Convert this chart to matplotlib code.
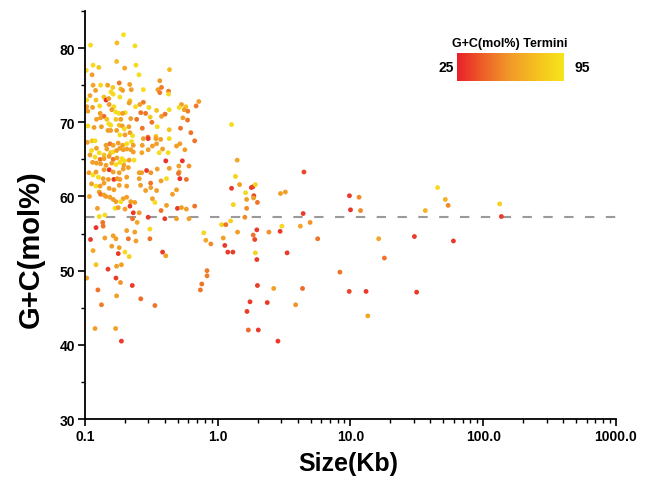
import numpy as np
import matplotlib
matplotlib.use("Agg")
import matplotlib.pyplot as plt
from matplotlib.colors import LinearSegmentedColormap
from matplotlib.ticker import LogLocator, MultipleLocator, FixedLocator, FixedFormatter, NullFormatter

plt.rcParams['font.family'] = ['Liberation Sans', 'DejaVu Sans']
plt.rcParams['font.weight'] = 'bold'

# ---- Data: plasmid size (Kb), G+C (mol%), G+C of termini (mol%) ----
# Dense cluster, upper part
size_a = [0.195,0.110,0.174,0.238,0.115,0.173,0.127,0.199,0.242,0.102,
          0.433,0.113,0.255,0.366,0.181,0.217,0.115,0.131,0.148,0.162,
          0.186,0.192,0.223,0.275,0.354,0.377,0.426,0.120,0.157,0.163,
          0.366,0.426,0.109,0.103,0.121,0.139,0.144,0.151,0.183,0.218,
          0.215,0.275,0.259,0.240,0.303,0.720,0.687,0.533,0.575,0.512,
          0.558,0.595,0.103,0.105,0.114,0.129,0.152,0.165,0.159,0.170,
          0.180,0.201,0.192,0.130,0.139,0.131,0.122,0.146,0.171,0.186,
          0.221,0.263,0.286,0.346,0.310,0.377,0.401,0.431,0.245,0.319,
          0.546,0.592,0.105,0.117,0.133,0.151,0.156,0.181,0.191,0.214,
          0.350,0.270,0.431,0.524,0.627,0.149,0.156,0.173,0.198,0.218,
          0.228,0.183,0.200,0.342,0.298]
gc_a = [81.8,80.4,80.7,80.3,77.7,78.2,77.4,77.3,77.7,77.0,
        77.1,76.4,76.4,75.6,75.3,75.1,75.0,75.0,75.0,74.7,
        74.5,74.3,74.4,74.4,74.4,74.7,74.2,74.3,74.1,73.8,
        74.0,73.8,73.6,73.0,73.0,73.4,73.0,73.2,73.4,72.9,
        72.6,72.7,72.4,72.1,72.0,72.8,72.2,72.4,72.1,72.0,
        71.7,71.5,72.1,71.5,72.0,72.2,72.4,72.1,71.7,71.4,
        71.2,71.3,71.2,71.2,70.8,70.6,70.4,70.4,70.4,70.4,
        70.5,71.3,71.2,71.6,70.7,70.8,71.1,71.7,70.4,70.0,
        70.6,70.3,69.5,69.3,69.4,69.8,69.6,69.6,69.5,69.4,
        69.4,69.2,69.0,69.2,68.6,68.9,68.9,68.9,69.1,68.6,
        68.2,68.3,68.3,68.1,68.0]
term_a = [92,90,75,90,88,75,80,65,88,88,
          75,62,90,60,50,62,65,88,62,80,
          75,62,62,90,62,50,50,62,90,88,
          50,88,65,90,78,78,30,62,90,78,
          62,50,62,90,88,62,50,62,78,90,
          62,50,62,62,62,88,62,90,62,90,
          90,90,62,62,45,62,62,78,78,62,
          62,48,48,78,80,62,48,90,48,48,
          62,48,90,62,62,90,90,78,62,62,
          90,48,78,48,48,62,62,62,90,62,
          90,90,62,78,48]

# Dense cluster, middle part
size_b = [0.104,0.113,0.119,0.144,0.154,0.163,0.178,0.192,0.206,0.224,
          0.231,0.275,0.299,0.342,0.371,0.431,0.518,0.670,0.270,0.322,
          0.346,0.112,0.122,0.128,0.139,0.146,0.156,0.163,0.173,0.183,
          0.194,0.206,0.221,0.231,0.268,0.299,0.362,0.384,0.423,0.489,
          0.565,0.109,0.119,0.130,0.139,0.152,0.163,0.174,0.190,0.198,
          0.215,0.234,0.114,0.122,0.131,0.144,0.159,0.171,0.183,0.196,
          0.212,0.406,0.509,0.541,0.607,0.107,0.115,0.121,0.139,0.152,
          0.163,0.181,0.194,0.256,0.267,0.291,0.313,0.350,0.431,0.512,
          0.506,0.126,0.137,0.150,0.165,0.175,0.183,0.206,0.256,0.312,
          0.374,0.411,0.518,0.580,0.112,0.121,0.130,0.139,0.152,0.165,
          0.181,0.206,0.262,0.286,0.313,0.346,0.456,0.489,0.128,0.131,
          0.139,0.108,0.144,0.154,0.163,0.194,0.206,0.322,0.171,0.186,
          0.221,0.237,0.336,0.411,0.497,0.533,0.580,0.670,0.124,0.168,
          0.178,0.200,0.218,0.256,0.374,0.231,0.128,0.141,0.136,0.137,
          0.299,0.399,0.489,0.607,0.228,0.247,0.206,0.237,0.308,0.785,
          0.813,0.121,0.110,0.141,0.163,0.171,0.212,0.242,0.308,0.159,
          0.181]
gc_b = [67.3,67.5,67.5,66.9,67.1,66.9,67.2,66.9,67.1,67.4,
        66.9,67.8,67.8,67.8,67.7,67.8,67.1,67.5,66.9,66.8,
        67.1,66.2,66.5,65.9,65.6,66.4,65.9,66.0,66.2,66.5,
        66.3,66.4,66.3,66.0,65.9,66.3,65.9,66.4,65.9,66.8,
        66.3,65.6,65.3,65.0,65.1,65.4,65.0,65.2,65.1,64.8,
        64.9,64.9,64.6,64.5,64.4,64.2,64.5,64.3,64.6,64.2,
        63.9,64.8,64.1,64.8,64.1,63.2,62.9,63.3,63.6,63.6,
        63.3,63.2,63.7,63.2,63.2,63.5,63.2,63.7,63.8,63.3,
        63.1,62.6,62.4,62.3,62.3,62.4,62.3,62.6,62.4,61.8,
        62.1,62.4,62.4,62.3,61.7,61.4,61.4,61.8,61.1,60.9,
        61.5,61.4,61.5,60.8,61.2,60.8,60.3,60.9,60.6,60.3,
        60.2,60.0,60.0,59.9,59.6,59.7,59.9,59.7,59.3,59.3,
        59.3,59.2,59.2,58.8,58.4,58.5,58.3,58.7,58.4,58.4,
        58.5,58.3,58.7,57.8,58.1,57.8,57.3,57.5,56.5,56.0,
        57.2,57.0,57.0,57.0,57.0,56.5,55.4,55.2,55.6,55.1,
        54.1,55.8,54.2,54.4,54.7,54.3,54.3,54.0,54.3,53.3,
        53.1]
term_b = [62,78,90,62,48,62,62,62,90,90,
          62,62,32,62,62,88,62,48,62,62,
          62,90,62,90,78,62,78,90,62,62,
          62,62,62,62,65,62,90,62,90,62,
          62,62,90,48,62,62,48,62,90,90,
          62,90,62,62,62,62,62,90,90,62,
          62,30,62,30,58,62,90,62,62,30,
          62,62,62,62,62,32,58,62,62,62,
          48,90,62,62,32,58,62,62,62,48,
          62,90,30,48,62,90,62,62,62,62,
          62,62,62,62,62,62,62,62,62,48,
          62,62,62,62,62,62,62,62,62,90,
          62,62,90,62,32,62,62,48,62,90,
          62,62,32,62,48,32,90,90,48,48,
          32,32,62,62,48,65,62,62,88,88,
          65,30,32,62,62,62,48,62,48,62,
          62]

# Dense cluster, lower tail
size_c = [0.887,0.115,0.178,0.200,0.215,0.384,0.406,0.121,0.173,0.188,
          0.149,0.830,0.830,0.103,0.171,0.185,0.227,0.758,0.740,0.125,
          0.173,0.263,0.336,0.133,0.119,0.170,0.188]
gc_c = [53.6,52.7,52.3,52.5,51.9,52.5,52.0,50.8,50.6,50.8,
        50.2,50.0,49.3,49.0,49.0,48.4,48.0,48.2,47.4,47.4,
        46.6,46.2,45.3,45.4,42.2,42.2,40.5]
term_c = [55,65,32,88,85,32,62,78,62,62,
          32,50,50,62,32,58,32,48,48,48,
          62,45,48,50,62,62,32]

# Larger elements (1 Kb and above)
size_d = [1.27,1.40,1.36,1.27,1.46,1.79,1.84,1.92,1.62,1.87,
          1.86,1.65,1.31,1.65,1.99,2.97,3.23,4.46,4.40,1.60,
          1.07,1.15,1.25,1.41,1.10,1.13,1.19,1.30,1.97,1.85,
          1.90,1.92,1.97,2.43,2.95,3.04,3.33,4.19,4.96,5.66,
          1.99,2.64,4.35,8.32,9.78,1.75,2.36,3.86,1.66,1.70,
          2.02,2.84,9.82,10.0,11.6,11.9,45.3,51.8,54.4,36.6,
          133.0,137.0,16.3,30.3,59.6,18.0,13.1,31.5,13.5]
gc_d = [69.7,64.9,62.7,61.1,61.6,61.2,61.3,61.6,60.5,60.1,
        59.8,59.6,58.9,58.4,59.2,60.4,60.6,63.3,57.7,57.2,
        56.2,56.2,56.7,55.2,54.4,53.4,52.5,52.5,55.5,54.8,
        54.2,52.4,51.5,55.2,55.3,56.0,52.4,56.0,56.5,54.3,
        48.0,47.6,47.6,49.8,47.2,45.8,45.7,45.4,44.5,42.0,
        42.0,40.5,60.1,58.2,59.9,58.1,61.2,59.6,58.8,58.1,
        59.0,57.3,54.3,54.6,54.0,51.7,47.2,47.1,43.9]
term_d = [90,65,85,32,62,35,35,85,88,35,
          62,62,85,55,48,62,62,35,32,55,
          85,48,85,62,62,32,32,32,32,48,
          35,85,32,58,32,88,32,65,58,48,
          32,62,45,48,35,32,32,58,32,45,
          32,32,32,30,55,55,90,70,55,72,
          85,32,65,32,32,48,32,32,65]

mean_gc = 57.2  # dashed reference line

size_kb = np.array(size_a + size_b + size_c + size_d)
gc = np.array(gc_a + gc_b + gc_c + gc_d)
term = np.array(term_a + term_b + term_c + term_d)

cmap = LinearSegmentedColormap.from_list(
    "termini", ["#e8202a", "#ee6228", "#f29a28", "#f5c21f", "#f7e61b"])

fig = plt.figure(figsize=(6.51, 4.81), dpi=100)
ax = fig.add_axes([0.1306, 0.1268, 0.8156, 0.8482])

ax.axhline(mean_gc, color="#9a9a9a", lw=1.5, dashes=(4.5, 5.5), zorder=1)
sc = ax.scatter(size_kb, gc, c=term, cmap=cmap, vmin=25, vmax=95,
                s=12, linewidths=0, zorder=2)

ax.set_xscale("log")
ax.set_xlim(0.1, 1000)
ax.set_ylim(30, 85)
ax.xaxis.set_major_locator(FixedLocator([0.1, 1, 10, 100, 1000]))
ax.xaxis.set_major_formatter(FixedFormatter(["0.1", "1.0", "10.0", "100.0", "1000.0"]))
ax.xaxis.set_minor_locator(LogLocator(base=10, subs=np.arange(2, 10)))
ax.xaxis.set_minor_formatter(NullFormatter())
ax.yaxis.set_major_locator(MultipleLocator(10))
ax.yaxis.set_minor_locator(MultipleLocator(5))

for s in ["top", "right"]:
    ax.spines[s].set_visible(False)
for s in ["left", "bottom"]:
    ax.spines[s].set_linewidth(1.3)
ax.tick_params(which="major", direction="out", length=5, width=1.2,
               labelsize=10, pad=2)
ax.tick_params(which="minor", direction="out", length=3, width=1.0)
for lab in ax.get_xticklabels() + ax.get_yticklabels():
    lab.set_fontweight("bold")

ax.set_xlabel("Size(Kb)", fontsize=18, fontweight="bold")
ax.set_ylabel("G+C(mol%)", fontsize=21, fontweight="bold")
ax.xaxis.set_label_coords(0.495, -0.078)
ax.yaxis.set_label_coords(-0.075, 0.42)

# colour legend
cax = fig.add_axes([0.702, 0.8295, 0.164, 0.058])
gradient = np.linspace(25, 95, 256).reshape(1, -1)
cax.imshow(gradient, aspect="auto", cmap=cmap, vmin=25, vmax=95,
           extent=[25, 95, 0, 1])
cax.set_axis_off()
fig.text(0.783, 0.908, "G+C(mol%) Termini", ha="center", va="center",
         fontsize=9, fontweight="bold")
fig.text(0.685, 0.859, "25", ha="center", va="center", fontsize=10,
         fontweight="bold")
fig.text(0.894, 0.859, "95", ha="center", va="center", fontsize=10,
         fontweight="bold")

fig.savefig("out.png", dpi=100)
